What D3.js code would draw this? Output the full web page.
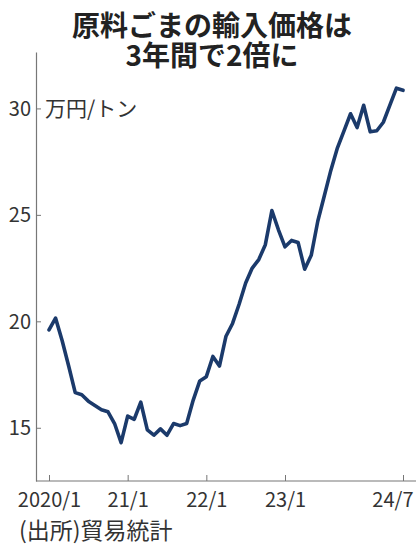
<!DOCTYPE html>
<html lang="ja">
<head>
    <meta charset="utf-8">
    <title>原料ごまの輸入価格</title>
    <script src="https://d3js.org/d3.v7.min.js"></script>
    <style>
        body { margin: 0; background: #fff; }
        text { font-family: "Noto Sans CJK JP", "Noto Sans", sans-serif; fill: #333; }
    </style>
</head>
<body>
<div id="chart"></div>
<script>
    // Monthly import price of raw sesame, 10,000 yen per ton (2020/1 - 2024/7)
    const months = d3.timeMonth.range(new Date(2020, 0, 1), new Date(2024, 7, 1))
        .map(d => `${d.getFullYear()}/${d.getMonth() + 1}`);

    const prices = [
        19.6, 20.15, 19.1, 17.9, 16.65, 16.55, 16.25, 16.05, 15.85, 15.75, 15.2, 14.3,
        15.55, 15.4, 16.2, 14.9, 14.65, 14.95, 14.65, 15.2, 15.1, 15.2, 16.3, 17.2,
        17.4, 18.35, 17.9, 19.3, 19.9, 20.8, 21.8, 22.5, 22.9, 23.6, 25.2, 24.3,
        23.5, 23.8, 23.7, 22.45, 23.1, 24.7, 25.9, 27.1, 28.15, 28.95, 29.75, 29.1,
        30.15, 28.9, 28.95, 29.35, 30.15, 30.95, 30.85
    ];

    const xTickMonths = ["2020/1", "2021/1", "2022/1", "2023/1", "2024/7"];
    const xTickLabels = ["2020/1", "21/1", "22/1", "23/1", "24/7"];
    const yTicks = [15, 20, 25, 30];

    const W = 416, H = 546;
    const plotLeft = 36, plotBottom = 481, plotTop = 52;

    const svg = d3.select("#chart").append("svg")
        .attr("width", W)
        .attr("height", H);

    // title
    const title = svg.append("text")
        .attr("text-anchor", "middle")
        .style("font-size", "28px")
        .style("font-weight", "bold")
        .style("fill", "#222");
    title.append("tspan").attr("x", 212).attr("y", 36).text("原料ごまの輸入価格は");
    title.append("tspan").attr("x", 212).attr("y", 66).text("3年間で2倍に");

    const x = d3.scalePoint()
        .domain(months)
        .range([49, 403]);

    const y = d3.scaleLinear()
        .domain([12.5, 32.65])
        .range([plotBottom, plotTop]);

    // y axis: ticks point inward, labels on the left
    const yAxis = svg.append("g")
        .attr("transform", `translate(${plotLeft},0)`)
        .call(d3.axisRight(y).tickValues(yTicks).tickSize(5).tickSizeOuter(0));
    yAxis.select(".domain").attr("stroke", "#777").attr("stroke-width", 1.2);
    yAxis.selectAll(".tick line").attr("stroke", "#777");
    yAxis.selectAll(".tick text")
        .attr("x", -5)
        .attr("dy", "0.34em")
        .attr("text-anchor", "end")
        .style("font-size", "20px")
        .style("fill", "#333");

    // x axis
    const xAxis = svg.append("g")
        .attr("transform", `translate(0,${plotBottom})`)
        .call(d3.axisTop(x)
            .tickValues(xTickMonths)
            .tickFormat((d, i) => xTickLabels[i])
            .tickSize(6)
            .tickSizeOuter(0));
    xAxis.select(".domain").attr("d", `M${plotLeft},0H${W}`).attr("stroke", "#777").attr("stroke-width", 1.2);
    xAxis.selectAll(".tick line").attr("stroke", "#777");
    xAxis.selectAll(".tick text")
        .attr("y", 26)
        .attr("dy", 0)
        .style("font-size", "20px")
        .style("fill", "#333");
    // last label sits against the right edge
    xAxis.selectAll(".tick text")
        .filter((d, i) => i === xTickMonths.length - 1)
        .attr("text-anchor", "end")
        .attr("x", 10);

    // unit label
    svg.append("text")
        .attr("x", 45)
        .attr("y", 116)
        .style("font-size", "21px")
        .text("万円/トン");

    // price line
    const line = d3.line()
        .x((d, i) => x(months[i]))
        .y(d => y(d));
    svg.append("path")
        .datum(prices)
        .attr("fill", "none")
        .attr("stroke", "#1b3a6b")
        .attr("stroke-width", 3.6)
        .attr("stroke-linejoin", "round")
        .attr("stroke-linecap", "round")
        .attr("d", line);

    // source
    svg.append("text")
        .attr("x", 19)
        .attr("y", 539)
        .style("font-size", "23px")
        .text("(出所)貿易統計");
</script>
</body>
</html>
